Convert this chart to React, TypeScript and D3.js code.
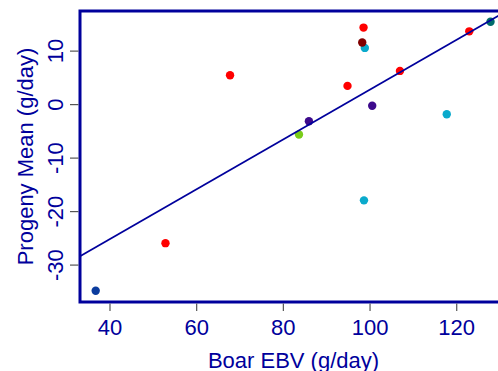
import * as d3 from 'd3';

// Boar EBV (g/day) vs progeny mean (g/day), one point per boar
const boarEbv = [36.7, 52.8, 67.7, 83.6, 85.9, 94.8, 98.5, 98.8, 98.2, 98.6, 100.5, 106.9, 117.7, 122.9, 127.8];
const progenyMean = [-34.8, -25.9, 5.5, -5.6, -3.1, 3.5, 14.4, 10.6, 11.6, -17.9, -0.2, 6.3, -1.8, 13.7, 15.5];
const pointColor = [
  '#0b3c9e', '#ff0000', '#ff0000', '#7acc1a', '#3d0a8c', '#ff0000', '#ff0000', '#0aaacc',
  '#800000', '#0aaacc', '#3d0a8c', '#ff0000', '#0aaacc', '#ff0000', '#006b6b',
];
const xTicks = [40, 60, 80, 100, 120];
const yTicks = [-30, -20, -10, 0, 10];

const NAVY = '#00009c';
const FONT = '"Liberation Sans", Arial, sans-serif';

export default function App() {
  const width = 498;
  const height = 371;
  const plot = { left: 80, top: 11, right: 507, bottom: 302 };

  const x = d3.scaleLinear().domain([33.08, 131.6]).range([plot.left, plot.right]);
  const y = d3.scaleLinear().domain([-36.9, 17.5]).range([plot.bottom, plot.top]);

  // least-squares fit for the trend line
  const mx = d3.mean(boarEbv)!;
  const my = d3.mean(progenyMean)!;
  const sxy = d3.sum(boarEbv, (v, i) => (v - mx) * (progenyMean[i] - my));
  const sxx = d3.sum(boarEbv, (v) => (v - mx) ** 2);
  const slope = sxy / sxx;
  const intercept = my - slope * mx;
  const [x0, x1] = x.domain();
  const fitLine = d3.line<number>()
    .x((d) => x(d))
    .y((d) => y(intercept + slope * d))([x0, x1]);

  return (
    <svg
      width={width}
      height={height}
      style={{ position: 'absolute', left: 0, top: 0, background: '#fff' }}
    >
      <defs>
        <clipPath id="plot-clip">
          <rect x={plot.left} y={plot.top} width={plot.right - plot.left} height={plot.bottom - plot.top} />
        </clipPath>
      </defs>

      {boarEbv.map((v, i) => (
        <circle key={i} cx={x(v)} cy={y(progenyMean[i])} r={4.2} fill={pointColor[i]} />
      ))}

      <path d={fitLine ?? ''} fill="none" stroke={NAVY} strokeWidth={1.8} clipPath="url(#plot-clip)" />

      <rect
        x={plot.left}
        y={plot.top}
        width={plot.right - plot.left}
        height={plot.bottom - plot.top}
        fill="none"
        stroke={NAVY}
        strokeWidth={3}
      />

      {xTicks.map((t) => (
        <g key={t} transform={`translate(${x(t)},0)`}>
          <line y1={plot.bottom + 1.5} y2={plot.bottom + 9} stroke="#555" strokeWidth={1.2} />
          <text y={335} textAnchor="middle" fill={NAVY} fontFamily={FONT} fontSize={22}>
            {t}
          </text>
        </g>
      ))}

      {yTicks.map((t) => (
        <g key={t} transform={`translate(0,${y(t)})`}>
          <line x1={plot.left - 1.5} x2={plot.left - 10} stroke="#555" strokeWidth={1.2} />
          <text
            transform="translate(63,0) rotate(-90)"
            textAnchor="middle"
            fill={NAVY}
            fontFamily={FONT}
            fontSize={22}
          >
            {t}
          </text>
        </g>
      ))}

      <text
        x={(plot.left + plot.right) / 2}
        y={368}
        textAnchor="middle"
        fill={NAVY}
        fontFamily={FONT}
        fontSize={22}
      >
        Boar EBV (g/day)
      </text>
      <text
        transform={`translate(33,${(plot.top + plot.bottom) / 2}) rotate(-90)`}
        textAnchor="middle"
        fill={NAVY}
        fontFamily={FONT}
        fontSize={22}
      >
        Progeny Mean (g/day)
      </text>
    </svg>
  );
}
